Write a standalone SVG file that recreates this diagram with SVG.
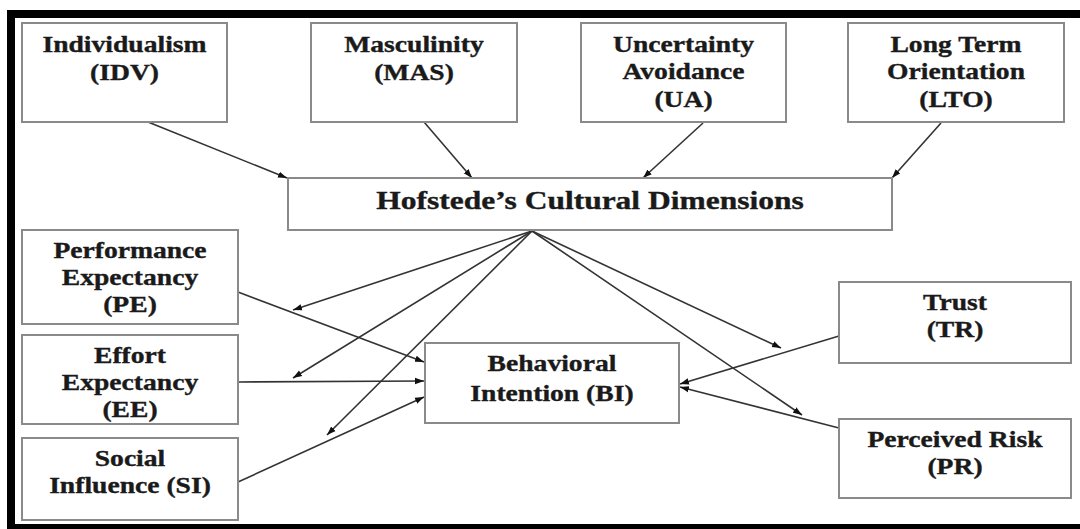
<svg xmlns="http://www.w3.org/2000/svg" width="1080" height="529" viewBox="0 0 1080 529">
<defs>
<marker id="ah" markerUnits="userSpaceOnUse" markerWidth="10" markerHeight="8" refX="9" refY="4" orient="auto">
<path d="M0,0.8 L9,4 L0,7.2 z" fill="#111"/>
</marker>
<style>
.box{fill:#fff;stroke:#8a8a8a;stroke-width:2}
.t{font-family:"Liberation Serif","Times New Roman",serif;font-weight:bold;font-size:22.5px;fill:#1a1a1a;stroke:#1a1a1a;stroke-width:0.35;text-anchor:middle}
.title{font-size:25px}
.c{stroke:#333;stroke-width:1.6;fill:none;marker-end:url(#ah)}
</style>
</defs>
<rect x="0" y="0" width="1080" height="529" fill="#fff"/>
<g id="frame" fill="#000">
<rect x="7" y="10" width="1073" height="8"/>
<rect x="7" y="10" width="8" height="519"/>
<rect x="7" y="524" width="1073" height="5"/>
</g>
<g id="connectors">
<line class="c" x1="148" y1="122" x2="287" y2="178"/>
<line class="c" x1="424" y1="122" x2="472" y2="178"/>
<line class="c" x1="703" y1="123" x2="643" y2="178"/>
<line class="c" x1="941" y1="123" x2="892" y2="178"/>
<line class="c" x1="532" y1="231" x2="293" y2="310"/>
<line class="c" x1="532" y1="231" x2="293" y2="378"/>
<line class="c" x1="532" y1="231" x2="327" y2="435"/>
<line class="c" x1="532" y1="231" x2="781" y2="348"/>
<line class="c" x1="532" y1="231" x2="802" y2="415"/>
<line class="c" x1="238" y1="292" x2="424" y2="362"/>
<line class="c" x1="238" y1="382" x2="424" y2="381"/>
<line class="c" x1="238" y1="482" x2="424" y2="397"/>
<line class="c" x1="839" y1="336" x2="680" y2="384"/>
<line class="c" x1="839" y1="428" x2="680" y2="387"/>
</g>
<g id="IDV">
<rect class="box" x="22" y="23" width="205" height="99"/>
<text class="t" transform="translate(124.5,51.7) scale(1.227,1)">Individualism</text>
<text class="t" transform="translate(124.5,80) scale(1.227,1)">(IDV)</text>
</g>
<g id="MAS">
<rect class="box" x="311" y="23" width="206" height="99"/>
<text class="t" transform="translate(414,51.7) scale(1.227,1)">Masculinity</text>
<text class="t" transform="translate(414,80) scale(1.227,1)">(MAS)</text>
</g>
<g id="UA">
<rect class="box" x="581" y="23" width="205" height="99"/>
<text class="t" transform="translate(683.5,51.7) scale(1.227,1)">Uncertainty</text>
<text class="t" transform="translate(683.5,79) scale(1.227,1)">Avoidance</text>
<text class="t" transform="translate(683.5,106.5) scale(1.227,1)">(UA)</text>
</g>
<g id="LTO">
<rect class="box" x="848" y="23" width="216" height="99"/>
<text class="t" transform="translate(956,51.7) scale(1.227,1)">Long Term</text>
<text class="t" transform="translate(956,79) scale(1.227,1)">Orientation</text>
<text class="t" transform="translate(956,106.5) scale(1.227,1)">(LTO)</text>
</g>
<g id="HCD">
<rect class="box" x="288" y="178" width="604" height="52"/>
<text class="t title" transform="translate(590,208.5) scale(1.26,1)">Hofstede’s Cultural Dimensions</text>
</g>
<g id="PE">
<rect class="box" x="22" y="230" width="216" height="94"/>
<text class="t" transform="translate(130,258.3) scale(1.227,1)">Performance</text>
<text class="t" transform="translate(130,285) scale(1.227,1)">Expectancy</text>
<text class="t" transform="translate(130,312) scale(1.227,1)">(PE)</text>
</g>
<g id="EE">
<rect class="box" x="22" y="335" width="216" height="89"/>
<text class="t" transform="translate(130,363.3) scale(1.227,1)">Effort</text>
<text class="t" transform="translate(130,390) scale(1.227,1)">Expectancy</text>
<text class="t" transform="translate(130,416.7) scale(1.227,1)">(EE)</text>
</g>
<g id="SI">
<rect class="box" x="22" y="438" width="216" height="82"/>
<text class="t" transform="translate(130,465.7) scale(1.227,1)">Social</text>
<text class="t" transform="translate(130,493.3) scale(1.227,1)">Influence (SI)</text>
</g>
<g id="BI">
<rect class="box" x="425" y="343" width="254" height="80"/>
<text class="t" transform="translate(552,370.7) scale(1.227,1)">Behavioral</text>
<text class="t" transform="translate(552,400.7) scale(1.227,1)">Intention (BI)</text>
</g>
<g id="TR">
<rect class="box" x="839" y="282" width="232" height="81"/>
<text class="t" transform="translate(955,310) scale(1.227,1)">Trust</text>
<text class="t" transform="translate(955,337.3) scale(1.227,1)">(TR)</text>
</g>
<g id="PR">
<rect class="box" x="839" y="419" width="232" height="79"/>
<text class="t" transform="translate(955,446.7) scale(1.227,1)">Perceived Risk</text>
<text class="t" transform="translate(955,474) scale(1.227,1)">(PR)</text>
</g>
</svg>
